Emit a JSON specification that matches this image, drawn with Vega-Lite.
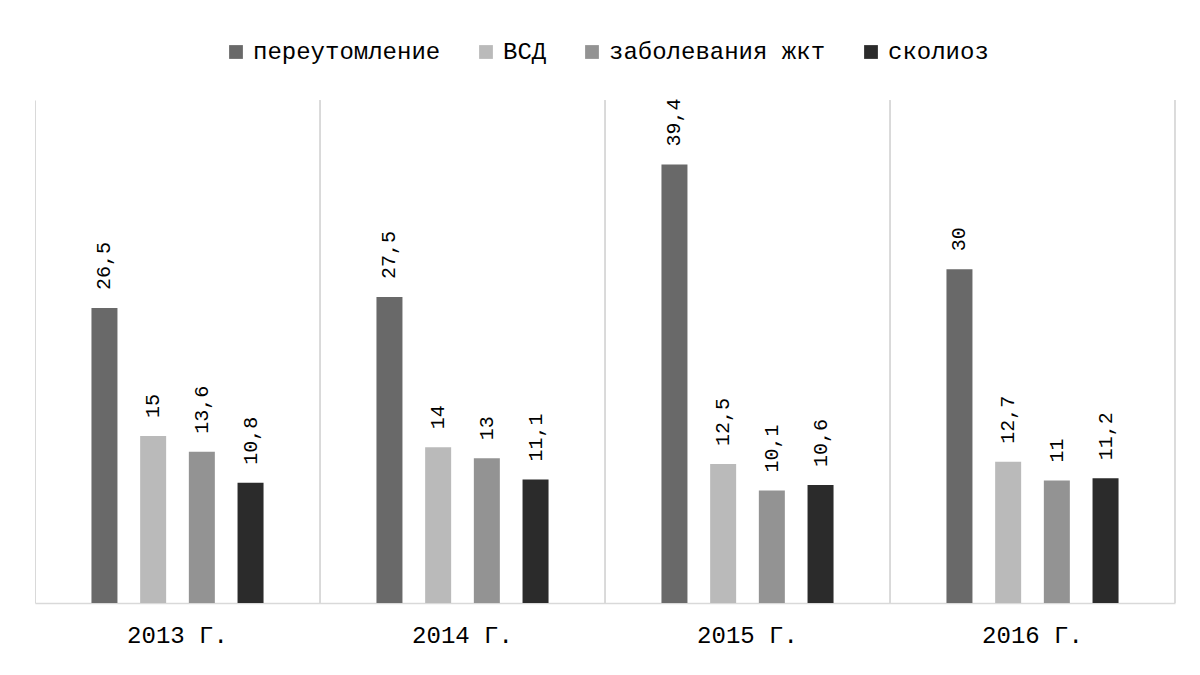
{
  "$schema": "https://vega.github.io/schema/vega-lite/v6.json",
  "width": 1140,
  "height": 503,
  "autosize": {"type": "none"},
  "padding": {"left": 35, "top": 100, "right": 25, "bottom": 72},
  "background": "white",
  "config": {
    "view": {"stroke": null},
    "font": "Liberation Mono",
    "locale": {"number": {"decimal": ",", "thousands": " ", "grouping": [3], "currency": ["", ""]}}
  },
  "data": {
    "values": [
      {"year": "2013 Г.", "series": "переутомление", "value": 26.5},
      {"year": "2013 Г.", "series": "ВСД", "value": 15},
      {"year": "2013 Г.", "series": "заболевания жкт", "value": 13.6},
      {"year": "2013 Г.", "series": "сколиоз", "value": 10.8},
      {"year": "2014 Г.", "series": "переутомление", "value": 27.5},
      {"year": "2014 Г.", "series": "ВСД", "value": 14},
      {"year": "2014 Г.", "series": "заболевания жкт", "value": 13},
      {"year": "2014 Г.", "series": "сколиоз", "value": 11.1},
      {"year": "2015 Г.", "series": "переутомление", "value": 39.4},
      {"year": "2015 Г.", "series": "ВСД", "value": 12.5},
      {"year": "2015 Г.", "series": "заболевания жкт", "value": 10.1},
      {"year": "2015 Г.", "series": "сколиоз", "value": 10.6},
      {"year": "2016 Г.", "series": "переутомление", "value": 30},
      {"year": "2016 Г.", "series": "ВСД", "value": 12.7},
      {"year": "2016 Г.", "series": "заболевания жкт", "value": 11},
      {"year": "2016 Г.", "series": "сколиоз", "value": 11.2}
    ]
  },
  "encoding": {
    "x": {
      "field": "year",
      "type": "nominal",
      "scale": {"paddingInner": 0, "paddingOuter": 0},
      "axis": {
        "title": null,
        "labelAngle": 0,
        "labelFont": "Liberation Mono",
        "labelFontSize": 24,
        "labelColor": "#000000",
        "labelPadding": 20,
        "ticks": false,
        "grid": true,
        "bandPosition": 0,
        "gridColor": "#d9d9d9",
        "gridWidth": 1,
        "domainColor": "#d9d9d9",
        "domainWidth": 1.5
      }
    },
    "xOffset": {
      "field": "series",
      "type": "nominal",
      "sort": ["переутомление", "ВСД", "заболевания жкт", "сколиоз"],
      "scale": {"paddingInner": 0.147, "paddingOuter": 1}
    },
    "y": {
      "field": "value",
      "type": "quantitative",
      "scale": {"domain": [0, 45.2], "nice": false, "zero": true},
      "axis": null
    }
  },
  "layer": [
    {
      "mark": {"type": "rule", "color": "#d9d9d9", "strokeWidth": 1},
      "encoding": {
        "x": {"field": "year", "type": "nominal", "bandPosition": 1},
        "xOffset": null,
        "y": null
      }
    },
    {
      "mark": {"type": "bar", "width": 26},
      "encoding": {
        "color": {
          "field": "series",
          "type": "nominal",
          "sort": ["переутомление", "ВСД", "заболевания жкт", "сколиоз"],
          "scale": {
            "domain": ["переутомление", "ВСД", "заболевания жкт", "сколиоз"],
            "range": ["#696969", "#bababa", "#939393", "#2b2b2b"]
          },
          "legend": {
            "title": null,
            "orient": "none",
            "direction": "horizontal",
            "legendX": 189,
            "legendY": -60,
            "symbolType": "square",
            "symbolSize": 190,
            "symbolStrokeWidth": 0,
            "symbolOpacity": 1,
            "labelFont": "Liberation Mono",
            "labelFontSize": 24,
            "labelColor": "#000000",
            "labelOffset": 5,
            "labelLimit": 0,
            "columnPadding": 33
          }
        }
      }
    },
    {
      "mark": {
        "type": "text",
        "angle": 270,
        "align": "left",
        "baseline": "middle",
        "dx": 18,
        "font": "Liberation Mono",
        "fontSize": 20,
        "color": "#000000"
      },
      "encoding": {
        "text": {"field": "value", "type": "quantitative", "format": ""}
      }
    }
  ]
}
